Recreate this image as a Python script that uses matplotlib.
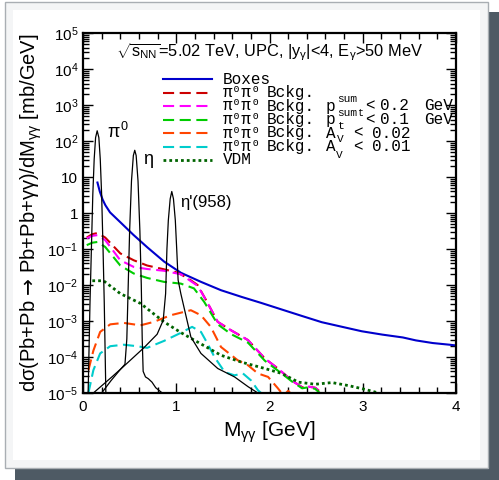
import matplotlib
matplotlib.use('Agg')
import matplotlib.pyplot as plt
from matplotlib.lines import Line2D
from matplotlib.patches import Rectangle
from matplotlib.ticker import FixedLocator, MultipleLocator, LogLocator, NullFormatter

plt.rcParams['font.family'] = ['Liberation Sans', 'DejaVu Sans']
plt.rcParams['mathtext.fontset'] = 'custom'
plt.rcParams['mathtext.rm'] = 'Liberation Sans'
plt.rcParams['mathtext.it'] = 'Liberation Sans'
plt.rcParams['mathtext.sf'] = 'DejaVu Sans'
plt.rcParams['lines.scale_dashes'] = False

# M_gg [GeV] and dsigma/dM [mb/GeV] for each curve
boxes_m = [0.155, 0.18, 0.21, 0.24, 0.29, 0.40, 0.54, 0.69, 0.87, 1.05, 1.265, 1.48, 1.70,
           1.91, 2.13, 2.35, 2.56, 2.78, 2.99, 3.21, 3.43, 3.57, 3.75, 3.93, 4.0]
boxes_y = [7.1, 4.0, 2.4, 1.66, 1.05, 0.56, 0.25, 0.112, 0.045, 0.022, 0.0123, 7.2e-3, 4.7e-3,
           3.2e-3, 2.1e-3, 1.38e-3, 9.3e-4, 6.9e-4, 5.2e-4, 4.2e-4, 3.5e-4, 2.9e-4, 2.45e-4, 2.2e-4, 2.1e-4]

bckg_m = [0.04, 0.10, 0.155, 0.238, 0.40, 0.544, 0.688, 0.868, 1.01, 1.12, 1.23, 1.32, 1.445,
          1.59, 1.77, 1.95, 2.09, 2.24, 2.35, 2.42, 2.49, 2.56]
bckg_y = [0.21, 0.26, 0.28, 0.21, 0.076, 0.049, 0.035, 0.0275, 0.0224, 0.0158, 0.010, 3.8e-3, 9.5e-4,
          5.5e-4, 2.95e-4, 9.1e-5, 4.8e-5, 2.2e-5, 1.45e-5, 1.5e-5, 1.4e-5, 1.0e-5]

bckg_p02_m = [0.04, 0.10, 0.155, 0.238, 0.40, 0.544, 0.688, 0.868, 1.049, 1.23, 1.32, 1.445,
              1.59, 1.77, 1.95, 2.09, 2.24, 2.35, 2.42, 2.49, 2.56]
bckg_p02_y = [0.20, 0.234, 0.245, 0.178, 0.049, 0.032, 0.028, 0.025, 0.020, 9.5e-3, 3.8e-3, 9.5e-4,
              5.5e-4, 2.95e-4, 9.1e-5, 4.8e-5, 2.2e-5, 1.45e-5, 1.5e-5, 1.4e-5, 1.0e-5]

bckg_p01_m = [0.04, 0.10, 0.155, 0.238, 0.40, 0.544, 0.688, 0.868, 1.049, 1.19, 1.30, 1.445,
              1.59, 1.77, 1.95, 2.13, 2.24, 2.35, 2.42, 2.49, 2.54]
bckg_p01_y = [0.129, 0.151, 0.158, 0.115, 0.035, 0.021, 0.0158, 0.0123, 0.011, 8.1e-3, 3.4e-3, 8.1e-4,
              4.3e-4, 2.5e-4, 7.9e-5, 3.5e-5, 2.1e-5, 1.35e-5, 1.45e-5, 1.3e-5, 1.0e-5]

bckg_av02_m = [0.058, 0.111, 0.184, 0.292, 0.436, 0.616, 0.76, 0.94, 1.12, 1.157, 1.265, 1.37,
               1.48, 1.66, 1.77, 1.875, 1.985, 2.09, 2.13, 2.16, 2.2, 2.26]
bckg_av02_y = [4.3e-5, 1.5e-4, 5.0e-4, 8.1e-4, 8.9e-4, 7.6e-4, 9.5e-4, 1.45e-3, 1.9e-3, 2.0e-3, 1.45e-3, 6.9e-4,
               1.9e-4, 8.1e-5, 5.9e-5, 3.5e-5, 2.8e-5, 1.35e-5, 1.0e-5, 9.0e-6, 1.15e-5, 8.0e-6]

bckg_av01_m = [0.058, 0.111, 0.184, 0.292, 0.436, 0.58, 0.688, 0.868, 1.049, 1.17, 1.265, 1.336,
               1.41, 1.52, 1.625, 1.715, 1.805, 1.875, 1.91]
bckg_av01_y = [1.0e-5, 4.3e-5, 1.26e-4, 2.0e-4, 2.2e-4, 2.0e-4, 1.8e-4, 2.8e-4, 4.7e-4, 6.9e-4, 5.0e-4, 2.35e-4,
               1.0e-4, 3.8e-5, 3.1e-5, 3.5e-5, 2.2e-5, 1.2e-5, 1.0e-5]

vdm_m = [0.10, 0.22, 0.40, 0.616, 0.868, 1.049, 1.23, 1.48, 1.70, 1.95, 2.13, 2.31, 2.49,
         2.67, 2.85, 3.03, 3.17]
vdm_y = [0.0132, 0.0132, 5.8e-3, 3.1e-3, 9.5e-4, 4.8e-4, 2.6e-4, 1.12e-4, 7.2e-5, 4.8e-5, 3.5e-5, 2.0e-5, 1.75e-5,
         1.95e-5, 1.6e-5, 1.25e-5, 1.0e-5]

# resonance peaks
pi0_m = [0.055, 0.075, 0.09, 0.105, 0.12, 0.135, 0.152, 0.17, 0.185, 0.20, 0.215, 0.228, 0.245]
pi0_y = [1e-5, 3.2e-3, 0.1, 3.2, 32, 126, 195, 126, 32, 3.2, 0.1, 3.2e-3, 1e-5]

eta_m = [0.20, 0.30, 0.40, 0.45, 0.47, 0.485, 0.50, 0.52, 0.54, 0.555, 0.57, 0.59, 0.61,
         0.625, 0.635, 0.645, 0.67, 0.70, 0.74, 0.78, 0.85]
eta_y = [1e-5, 2.2e-5, 4.5e-5, 6.3e-5, 3.2e-4, 0.01, 0.32, 7.9, 40, 56, 40, 7.9, 0.32,
         0.01, 3.2e-4, 4.0e-5, 2.8e-5, 2.5e-5, 2.0e-5, 1.4e-5, 1e-5]

etap_m = [0.111, 0.31, 0.436, 0.652, 0.795, 0.86, 0.886, 0.90, 0.915, 0.935, 0.952, 0.97, 0.99,
          1.005, 1.02, 1.049, 1.157, 1.265, 1.445, 1.625, 1.77, 1.875]
etap_y = [1e-5, 2.8e-5, 5.5e-5, 1.8e-4, 4.3e-4, 1.05e-3, 5.8e-3, 0.1, 0.63, 2.5, 4.0, 2.5, 0.63,
          0.1, 0.0138, 5.8e-3, 3.6e-4, 1.26e-4, 4.8e-5, 2.8e-5, 1.5e-5, 1e-5]

y_ticks = [1e-5, 1e-4, 1e-3, 1e-2, 1e-1, 1, 10, 1e2, 1e3, 1e4, 1e5]
y_tick_labels = [r'$10^{-5}$', r'$10^{-4}$', r'$10^{-3}$', r'$10^{-2}$', r'$10^{-1}$', '1', '10',
                 r'$10^{2}$', r'$10^{3}$', r'$10^{4}$', r'$10^{5}$']
x_ticks = [0, 1, 2, 3, 4]

W, H = 499, 480
fig = plt.figure(figsize=(W / 100, H / 100), dpi=100)
fig.patch.set_facecolor('white')


def fx(x):
    return x / W


def fy(y):
    return 1 - y / H


# card with drop shadow
fig.add_artist(Rectangle((fx(15), fy(480)), fx(484), 468 / H, transform=fig.transFigure,
                         facecolor='#4e5a64', edgecolor='none', zorder=-3))
fig.add_artist(Rectangle((fx(5), fy(468)), fx(483), 466 / H, transform=fig.transFigure,
                         facecolor='#f4f5f6', edgecolor='#a9aeb3', lw=1.0, zorder=-2))
fig.add_artist(Rectangle((fx(13), fy(460)), fx(467), 450 / H, transform=fig.transFigure,
                         facecolor='white', edgecolor='none', zorder=-1))

ax = fig.add_axes([fx(83), fy(393), fx(456 - 83), (393 - 33.3) / H])
ax.set_facecolor('none')

dash = (8, 4)
dots = (2.0, 2.2)
ax.plot(boxes_m, boxes_y, color='#0000cc', lw=1.5)
ax.plot(bckg_m, bckg_y, color='#cc0000', lw=1.5, dashes=dash)
ax.plot(bckg_p02_m, bckg_p02_y, color='#ff00ff', lw=1.5, dashes=dash)
ax.plot(bckg_p01_m, bckg_p01_y, color='#00cc00', lw=1.5, dashes=dash)
ax.plot(bckg_av02_m, bckg_av02_y, color='#ff4500', lw=1.5, dashes=dash)
ax.plot(bckg_av01_m, bckg_av01_y, color='#00cccc', lw=1.5, dashes=dash)
ax.plot(vdm_m, vdm_y, color='#006400', lw=2.0, dashes=dots)
for m, y in [(pi0_m, pi0_y), (eta_m, eta_y), (etap_m, etap_y)]:
    ax.plot(m, y, color='black', lw=0.9)

ax.set_yscale('log')
ax.set_xlim(0, 4)
ax.set_ylim(1e-5, 1e5)
ax.yaxis.set_major_locator(FixedLocator(y_ticks))
ax.set_yticklabels(y_tick_labels)
ax.yaxis.set_minor_locator(LogLocator(base=10, subs=range(2, 10), numticks=20))
ax.yaxis.set_minor_formatter(NullFormatter())
ax.set_xticks(x_ticks)
ax.xaxis.set_minor_locator(MultipleLocator(0.2))
ax.tick_params(which='both', direction='in', top=True, right=True, width=1.0, labelsize=11)
ax.tick_params(which='major', length=7)
ax.tick_params(which='minor', length=4)
ax.tick_params(axis='x', pad=5)
for s in ax.spines.values():
    s.set_linewidth(1.6)

ax.set_xlabel(r'M$_{\gamma\gamma}$ [GeV]', fontsize=15, labelpad=4)
ax.set_ylabel(r'd$\sigma$(Pb+Pb $\mathsf{→}$ Pb+Pb+$\gamma\gamma$)/dM$_{\gamma\gamma}$ [mb/GeV]',
              fontsize=14.5, labelpad=2)

fig.text(fx(270), fy(52), r'$\sqrt{s_{\rm NN}}$=5.02 TeV, UPC, |y$_\gamma$|<4, E$_\gamma$>50 MeV',
         fontsize=11.8, ha='center', va='center')

# peak names
fig.text(fx(107), fy(132), r'$\pi^0$', fontsize=13, va='center')
fig.text(fx(143), fy(160), 'η', fontsize=13, va='center')
fig.text(fx(180), fy(202), 'η\'(958)', fontsize=12, va='center')

# legend
mono = ['Liberation Mono', 'DejaVu Sans Mono']
rows = [79, 92.5, 106, 119.5, 133, 146.5, 160]
styles = [dict(color='#0000cc'), dict(color='#cc0000', dashes=dash), dict(color='#ff00ff', dashes=dash),
          dict(color='#00cc00', dashes=dash), dict(color='#ff4500', dashes=dash),
          dict(color='#00cccc', dashes=dash), dict(color='#006400', dashes=dots)]
for y, st in zip(rows, styles):
    lw = 2.0 if st['color'] == '#006400' else 1.5
    fig.add_artist(Line2D([fx(163), fx(212)], [fy(y), fy(y)], transform=fig.transFigure, lw=lw, **st))


def mtext(x, y, s, size=11.5):
    fig.text(fx(x), fy(y), s, family=mono, fontsize=size, va='center', ha='left')


mtext(223, rows[0], 'Boxes')
for y in rows[1:6]:
    mtext(223, y, 'π⁰π⁰')
    mtext(267, y, 'Bckg.')
mtext(223, rows[6], 'VDM')
for y, val in [(rows[2], '0.2'), (rows[3], '0.1')]:
    mtext(326, y, 'p')
    mtext(337, y - 7, 'sum', 8)
    mtext(365, y, '<')
    mtext(380, y, val)
    mtext(424, y, 'GeV')
for y, val in [(rows[4], '0.02'), (rows[5], '0.01')]:
    mtext(326, y, 'A')
    mtext(353, y, '<')
    mtext(372, y, val)
# lowered indices
mtext(357.5, rows[3] - 7, 't', 7)
mtext(338, rows[4] - 7, 't', 8)
mtext(337, rows[5] - 7, 'V', 8)
mtext(336, rows[5] + 8, 'V', 8)

fig.savefig('out.png', dpi=100)
